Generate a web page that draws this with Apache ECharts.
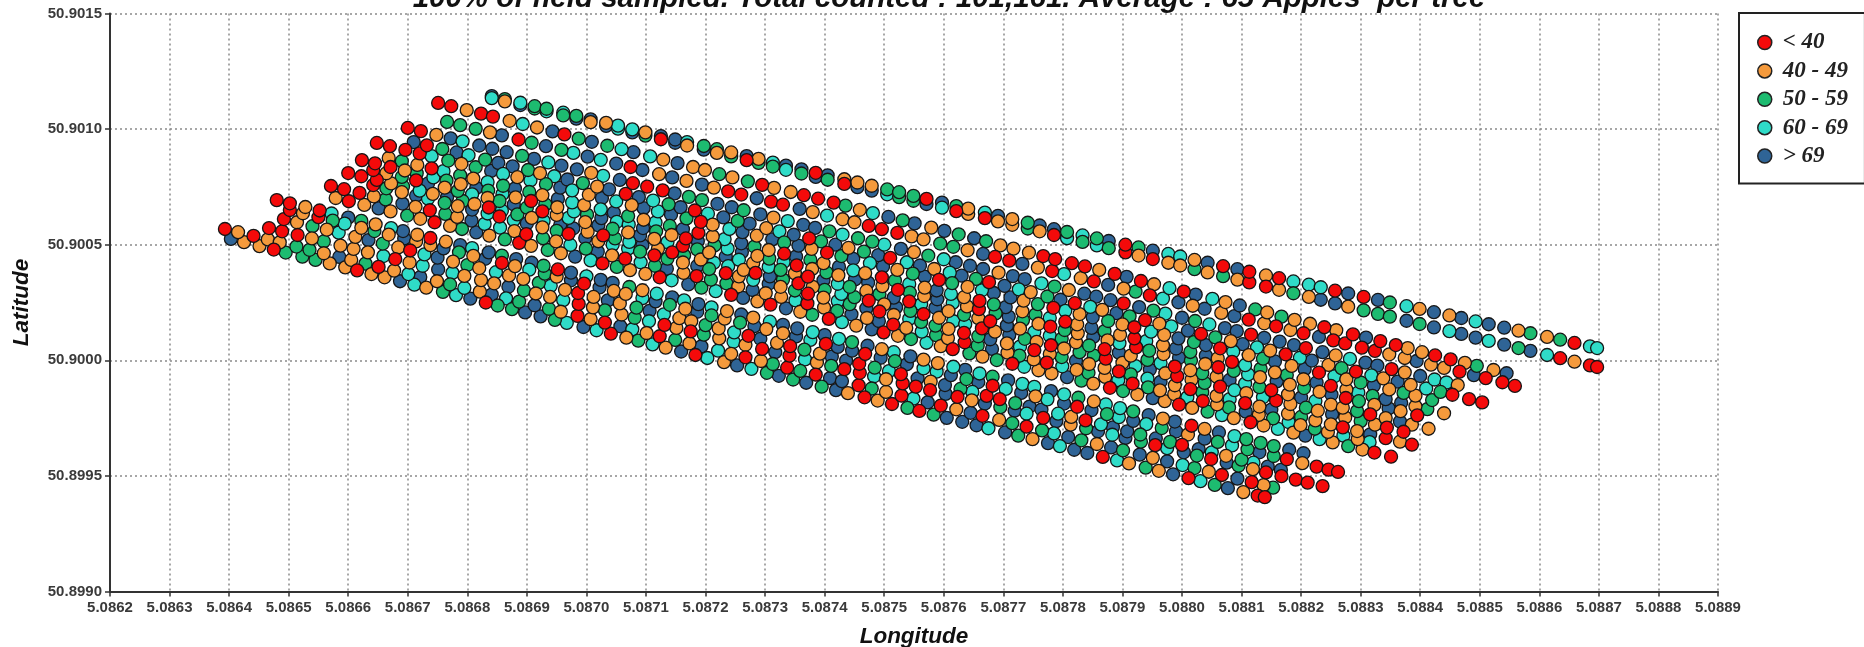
<!DOCTYPE html>
<html><head><meta charset="utf-8">
<style>html,body{margin:0;padding:0;background:#fff}#c{width:1864px;height:647px}</style>
<script src="https://cdn.jsdelivr.net/npm/echarts@6/dist/echarts.min.js"></script>
</head><body><div id="c"></div><script>
// each row: lonOffset(1e-6 from 5.0860), latOffset(1e-6 from 50.8990), class index
const classNames=["< 40","40 - 49","50 - 59","60 - 69","> 69"];
const classColors=["#f40a0a","#f59a3c","#1dbb70","#2fdcc8","#2f6496"];
const xTicks={min:5.0862,max:5.0889,step:0.0001};
const yTicks={min:50.8990,max:50.9015,step:0.0005};
const rowL1=[403,1525,4,425,1511,1,451,1494,1,475,1479,0,495,1466,2,523,1448,2,545,1434,2,569,1419,1,595,1402,1,615,1389,0,
639,1373,1,661,1359,1,687,1342,4,711,1327,3,731,1314,1,759,1296,2,781,1282,3,805,1267,4,831,1250,0,851,1237,2,
875,1221,2,897,1207,4,923,1190,4,947,1175,2,967,1162,3,995,1144,4,1017,1130,3,1041,1115,0,1067,1098,1,1087,1085,2,
1111,1069,3,1133,1055,1,1159,1038,4,1183,1023,0,1203,1010,3,1231,992,1,1253,978,4,1277,963,3,1303,946,2,1323,933,4,
1347,917,2,1369,903,4,1395,886,2,1419,871,4,1439,858,1,1467,840,0,1489,826,1,1513,811,0,1539,794,2,1559,781,0,
1583,765,2,1605,751,4,1631,734,4,1655,719,4,1675,706,3,1703,688,4,1725,674,2,1749,659,1,1775,642,4,1795,629,3,
1819,613,4,1841,599,4,1867,582,0,1891,567,3,1911,554,1,1939,536,2,1961,522,1,1985,507,4,2011,490,0,2031,477,3,
2055,461,2,2077,447,4,2103,430,1,2127,415,0,2139,408,0];
const rowL2=[393,1568,0,415,1554,1,441,1538,0,465,1523,1,485,1510,1,513,1492,2,535,1478,2,559,1463,1,585,1447,4,605,1434,1,
629,1418,2,651,1404,0,677,1388,1,701,1373,3,721,1360,4,749,1342,1,771,1328,2,795,1313,3,821,1297,1,841,1284,4,
865,1268,3,887,1254,2,913,1238,4,937,1223,2,957,1210,1,985,1192,0,1007,1178,1,1031,1163,0,1057,1147,4,1077,1134,3,
1101,1118,1,1123,1104,0,1149,1088,2,1173,1073,1,1193,1060,4,1221,1042,3,1243,1028,1,1267,1013,0,1293,997,1,1313,984,2,
1337,968,0,1359,954,2,1385,938,0,1409,923,4,1429,910,4,1457,892,0,1479,878,2,1503,863,1,1529,847,0,1549,834,3,
1573,818,4,1595,804,0,1621,788,1,1645,773,4,1665,760,0,1693,742,1,1715,728,2,1739,713,0,1765,697,2,1785,684,3,
1809,668,4,1831,654,2,1857,638,1,1881,623,4,1901,610,2,1929,592,4,1951,578,1,1975,563,4,2001,547,3,2021,534,2,
2045,518,1,2067,504,0,2093,488,4,2117,473,0,2137,460,1,2153,449,2];
const rowL3=[467,1572,0,489,1558,0,515,1542,0,539,1527,1,559,1514,2,587,1496,1,609,1482,1,633,1467,1,659,1451,3,679,1438,0,
703,1423,1,725,1409,3,751,1393,4,775,1378,3,795,1365,1,823,1347,1,845,1333,1,869,1318,4,895,1302,2,915,1289,1,
939,1274,1,961,1260,3,987,1244,0,1011,1229,1,1031,1216,2,1059,1198,1,1081,1184,2,1105,1169,3,1131,1153,0,1151,1140,1,
1175,1125,0,1197,1111,2,1223,1095,1,1247,1080,3,1267,1067,1,1295,1049,0,1317,1035,4,1341,1020,0,1367,1004,3,1387,991,1,
1411,976,2,1433,962,0,1459,946,0,1483,931,3,1503,918,1,1531,900,0,1553,886,0,1577,871,0,1603,855,4,1623,842,0,
1647,827,1,1669,813,4,1695,797,2,1719,782,4,1739,769,3,1767,751,0,1789,737,4,1813,722,1,1839,706,2,1859,693,4,
1883,678,3,1905,664,4,1931,648,2,1955,633,0,1975,620,3,2003,602,4,2025,588,2,2049,573,0,2075,557,4,2095,544,2,
2119,529,1,2141,515,0,2167,499,0,2191,484,0,2211,471,0,2236,456,0];
const rowL4=[492,1611,0,514,1597,1,540,1580,2,564,1565,1,584,1552,3,612,1534,1,634,1520,4,658,1505,2,684,1488,1,704,1475,0,
728,1458,3,750,1444,4,776,1427,1,800,1412,2,820,1399,1,848,1381,3,870,1367,1,894,1352,1,920,1335,2,940,1322,3,
964,1305,1,986,1291,0,1012,1274,1,1036,1259,4,1056,1246,1,1084,1228,2,1106,1214,4,1130,1199,3,1156,1182,1,1176,1169,1,
1200,1152,2,1222,1138,1,1248,1121,3,1272,1106,0,1292,1093,4,1320,1075,1,1342,1061,0,1366,1046,2,1392,1029,1,1412,1016,4,
1436,999,4,1458,985,0,1484,968,2,1508,953,3,1528,940,0,1556,922,4,1578,908,1,1602,893,4,1628,876,2,1648,863,3,
1672,846,0,1694,832,0,1720,815,2,1744,800,4,1764,787,4,1792,769,3,1814,755,1,1838,740,0,1864,723,3,1884,710,4,
1908,693,4,1930,679,2,1956,662,4,1980,647,2,2000,634,0,2028,616,4,2050,602,3,2074,587,1,2100,570,2,2120,557,3,
2144,540,4,2166,526,4];
const rowL5=[502,1650,0,524,1636,1,550,1619,0,574,1604,2,594,1591,3,622,1573,1,644,1559,2,668,1544,1,694,1527,4,714,1514,1,
738,1498,1,760,1484,4,786,1467,2,810,1452,1,830,1439,4,858,1421,0,880,1407,1,904,1392,3,930,1375,2,950,1362,1,
974,1346,4,996,1332,0,1022,1315,4,1046,1300,1,1066,1287,1,1094,1269,3,1116,1255,4,1140,1240,2,1166,1223,1,1186,1210,4,
1210,1194,2,1232,1180,1,1258,1163,2,1282,1148,4,1302,1135,1,1330,1117,1,1352,1103,4,1376,1088,3,1402,1071,0,1422,1058,4,
1446,1042,4,1468,1028,0,1494,1011,4,1518,996,2,1538,983,4,1566,965,3,1588,951,3,1612,936,4,1638,919,2,1658,906,4,
1682,890,0,1704,876,3,1730,859,4,1754,844,1,1774,831,3,1802,813,4,1824,799,0,1848,784,4,1874,767,2,1894,754,3,
1918,738,4,1940,724,3,1966,707,2,1990,692,4,2010,679,1,2038,661,4,2060,647,2,2084,632,3,2110,615,2,2130,602,4,
2154,586,2,2176,572,0,2202,555,1,2226,540,0,2246,527,0,2262,517,0];
const rowL6=[480,1693,0,502,1679,0,528,1663,1,552,1648,0,572,1635,3,600,1617,4,622,1603,2,646,1588,1,672,1572,3,692,1559,4,
716,1543,1,738,1529,0,764,1513,1,788,1498,4,808,1485,3,836,1467,4,858,1453,2,882,1438,4,908,1422,4,928,1409,2,
952,1393,0,974,1379,4,1000,1363,3,1024,1348,4,1044,1335,4,1072,1317,2,1094,1303,1,1118,1288,3,1144,1272,4,1164,1259,3,
1188,1243,4,1210,1229,3,1236,1213,1,1260,1198,4,1280,1185,1,1308,1167,3,1330,1153,4,1354,1138,4,1380,1122,3,1400,1109,4,
1424,1093,3,1446,1079,2,1472,1063,4,1496,1048,1,1516,1035,3,1544,1017,4,1566,1003,1,1590,988,1,1616,972,3,1636,959,4,
1660,943,3,1682,929,2,1708,913,4,1732,898,3,1752,885,3,1780,867,4,1802,853,3,1826,838,2,1852,822,1,1872,809,3,
1896,793,3,1918,779,2,1944,763,4,1968,748,1,1988,735,4,2016,717,0,2038,703,1,2062,688,4,2088,672,3,2108,659,2,
2132,643,2,2154,629,2,2180,613,4,2204,598,4];
const rowM1=[579,1702,1,601,1688,0,627,1672,1,651,1657,4,671,1644,1,699,1626,2,721,1612,1,745,1597,0,771,1581,1,791,1568,2,
815,1553,4,837,1539,1,863,1523,2,887,1508,0,907,1495,1,935,1477,2,957,1463,1,981,1448,4,1007,1432,3,1027,1419,0,
1051,1404,2,1073,1390,1,1099,1374,1,1123,1359,0,1143,1346,3,1171,1328,4,1193,1314,2,1217,1299,3,1243,1283,0,1263,1270,4,
1287,1255,1,1309,1241,0,1335,1225,4,1359,1210,1,1379,1197,2,1407,1179,0,1429,1165,3,1453,1150,1,1479,1134,4,1499,1121,0,
1523,1106,1,1545,1092,2,1571,1076,3,1595,1061,1,1615,1048,0,1643,1030,2,1665,1016,1,1689,1001,2,1715,985,0,1735,972,3,
1759,957,1,1781,943,1,1807,927,4,1831,912,2,1851,899,1,1879,881,0,1901,867,2,1925,852,1,1951,836,4,1971,823,1,
1995,808,0,2017,794,1,2043,778,2,2067,763,3,2087,750,1,2115,732,0,2137,718,1,2161,703,3,2187,687,1,2207,674,4,
2231,659,3,2253,645,1,2279,629,2,2303,614,1,2323,601,0,2351,583,0];
const rowM2=[571,1754,0,593,1740,0,619,1724,0,643,1709,1,663,1696,2,691,1678,4,713,1664,1,737,1649,0,763,1633,2,783,1620,1,
807,1604,4,829,1590,3,855,1574,3,879,1559,1,899,1546,0,927,1528,2,949,1514,1,973,1499,3,999,1483,2,1019,1470,4,
1043,1454,1,1065,1440,0,1091,1424,3,1115,1409,2,1135,1396,4,1163,1378,1,1185,1364,0,1209,1349,2,1235,1333,2,1255,1320,1,
1279,1304,4,1301,1290,1,1327,1274,1,1351,1259,3,1371,1246,0,1399,1228,1,1421,1214,2,1445,1199,4,1471,1183,1,1491,1170,4,
1515,1154,0,1537,1140,1,1563,1124,3,1587,1109,2,1607,1096,1,1635,1078,0,1657,1064,2,1681,1049,4,1707,1033,1,1727,1020,2,
1751,1004,1,1773,990,0,1799,974,3,1823,959,1,1843,946,2,1871,928,1,1893,914,3,1917,899,0,1943,883,2,1963,870,1,
1987,854,1,2009,840,3,2035,824,0,2059,809,1,2079,796,2,2107,778,4,2129,764,1,2153,749,2,2179,733,3,2199,720,1,
2223,704,2,2245,690,1,2271,674,3,2295,659,1,2315,646,3];
const rowHc=[642,1758,0,664,1744,2,690,1727,1,714,1712,4,734,1699,3,762,1681,2,784,1667,1,808,1652,4,834,1635,3,854,1622,0,
878,1606,3,900,1592,4,926,1575,1,950,1560,2,970,1547,0,998,1529,4,1020,1515,1,1044,1500,3,1070,1483,3,1090,1470,2,
1114,1454,0,1136,1440,2,1162,1423,1,1186,1408,4,1206,1395,2,1234,1377,0,1256,1363,1,1280,1348,3,1306,1331,4,1326,1318,1,
1350,1302,2,1372,1288,0,1398,1271,1,1422,1256,3,1442,1243,2,1470,1225,4,1492,1211,0,1516,1196,1,1542,1179,3,1562,1166,2,
1586,1150,2,1608,1136,1,1634,1119,0,1658,1104,2,1678,1091,4,1706,1073,1,1728,1059,3,1752,1044,0,1778,1027,1,1798,1014,2,
1822,998,4,1844,984,1,1870,967,1,1894,952,0,1914,939,2,1942,921,3,1964,907,4,1988,892,1,2014,875,0,2034,862,2,
2058,846,1,2080,832,3,2106,815,0,2130,800,1,2150,787,4,2178,769,1,2200,755,2,2224,740,1,2250,723,1,2270,710,0,
2294,694,1,2316,680,4,2342,663,0,2366,648,1,2386,635,0];
const rowM3=[600,1810,0,622,1796,0,648,1780,0,672,1765,1,692,1752,2,720,1734,3,742,1720,1,766,1705,4,792,1689,2,812,1676,1,
836,1661,0,858,1647,3,884,1631,2,908,1616,1,928,1603,3,956,1585,4,978,1571,4,1002,1556,1,1028,1540,0,1048,1527,2,
1072,1512,3,1094,1498,4,1120,1482,1,1144,1467,0,1164,1454,2,1192,1436,1,1214,1422,3,1238,1407,3,1264,1391,1,1284,1378,0,
1308,1363,4,1330,1349,2,1356,1333,0,1380,1318,1,1400,1305,2,1428,1287,3,1450,1273,2,1474,1258,0,1500,1242,1,1520,1229,4,
1544,1214,2,1566,1200,0,1592,1184,1,1616,1169,3,1636,1156,3,1664,1138,0,1686,1124,1,1710,1109,4,1736,1093,2,1756,1080,1,
1780,1065,0,1802,1051,1,1828,1035,2,1852,1020,2,1872,1007,0,1900,989,1,1922,975,3,1946,960,4,1972,944,1,1992,931,0,
2016,916,1,2038,902,2,2064,886,0,2088,871,3,2108,858,1,2136,840,3,2158,826,0,2182,811,1,2208,795,2,2228,782,1,
2252,767,4,2274,753,1,2300,737,2,2324,722,1,2344,709,0,2372,691,0];
const rowHb=[642,1823,0,664,1809,1,690,1793,2,714,1778,0,734,1765,4,762,1747,1,784,1733,2,808,1718,3,834,1702,1,854,1689,2,
878,1674,4,900,1660,2,926,1644,0,950,1629,1,970,1616,3,998,1598,1,1020,1584,4,1044,1569,2,1070,1553,1,1090,1540,4,
1114,1525,1,1136,1511,3,1162,1495,0,1186,1480,2,1206,1467,1,1234,1449,4,1256,1435,3,1280,1420,1,1306,1404,3,1326,1391,2,
1350,1376,1,1372,1362,0,1398,1346,4,1422,1331,3,1442,1318,2,1470,1300,1,1492,1286,2,1516,1271,4,1542,1255,0,1562,1242,3,
1586,1227,4,1608,1213,1,1634,1197,2,1658,1182,1,1678,1169,0,1706,1151,4,1728,1137,1,1752,1122,3,1778,1106,3,1798,1093,2,
1822,1078,1,1844,1064,2,1870,1048,0,1894,1033,4,1914,1020,1,1942,1002,2,1964,988,3,1988,973,0,2014,957,1,2034,944,2,
2058,929,1,2080,915,4,2106,899,3,2130,884,2,2150,871,0,2178,853,1,2200,839,4,2224,824,3,2250,808,1,2270,795,1,
2294,780,2,2316,766,0,2342,750,1,2366,735,4,2386,722,1,2414,704,1];
const rowM4=[623,1866,0,645,1852,0,671,1836,0,695,1821,1,715,1809,2,743,1791,3,765,1777,2,789,1762,1,815,1746,4,835,1734,2,
859,1719,3,881,1705,1,907,1689,0,931,1674,2,951,1662,1,979,1644,3,1001,1630,2,1025,1615,4,1051,1599,3,1071,1587,3,
1095,1572,4,1117,1558,2,1143,1542,1,1167,1527,0,1187,1515,4,1215,1497,2,1237,1483,3,1261,1468,4,1287,1452,1,1307,1440,2,
1331,1425,3,1353,1411,0,1379,1395,1,1403,1380,2,1423,1368,1,1451,1350,4,1473,1336,4,1497,1321,1,1523,1305,0,1543,1293,2,
1567,1278,1,1589,1264,4,1615,1248,3,1639,1233,1,1659,1221,0,1687,1203,2,1709,1189,4,1733,1174,2,1759,1158,1,1779,1146,0,
1803,1131,2,1825,1117,1,1851,1101,4,1875,1086,1,1895,1074,3,1923,1056,0,1945,1042,2,1969,1027,1,1995,1011,4,2015,999,2,
2039,984,1,2061,970,0,2087,954,2,2111,939,3,2131,927,1,2159,909,4,2181,895,1,2205,880,2,2231,864,1,2251,852,4,
2275,837,0,2297,823,2,2323,807,1,2347,792,4,2367,780,1,2395,762,0];
const rowHa=[668,1875,1,690,1861,2,716,1845,1,740,1830,0,760,1818,3,788,1800,2,810,1786,1,834,1771,3,860,1755,2,880,1743,4,
904,1728,2,926,1714,1,952,1698,4,976,1683,3,996,1671,1,1024,1653,3,1046,1639,4,1070,1624,2,1096,1608,1,1116,1596,3,
1140,1581,2,1162,1567,4,1188,1551,0,1212,1536,1,1232,1524,3,1260,1506,4,1282,1492,2,1306,1477,1,1332,1461,0,1352,1449,4,
1376,1434,2,1398,1420,1,1424,1404,4,1448,1389,3,1468,1377,1,1496,1359,0,1518,1345,2,1542,1330,3,1568,1314,1,1588,1302,4,
1612,1287,3,1634,1273,1,1660,1257,0,1684,1242,2,1704,1230,4,1732,1212,1,1754,1198,2,1778,1183,3,1804,1167,0,1824,1155,1,
1848,1140,4,1870,1126,2,1896,1110,1,1920,1095,0,1940,1083,3,1968,1065,1,1990,1051,4,2014,1036,2,2040,1020,4,2060,1008,1,
2084,993,0,2106,979,3,2132,963,2,2156,948,1,2176,936,2,2204,918,1,2226,904,4,2250,889,0,2276,873,1,2296,861,3,
2320,846,2,2342,832,4,2368,816,4,2392,801,1,2412,789,2,2440,771,1];
const rowM5=[648,1940,0,670,1926,0,696,1910,0,720,1895,0,740,1883,3,768,1864,2,790,1850,1,814,1835,2,840,1819,4,860,1806,3,
884,1792,1,906,1778,3,932,1762,2,956,1747,4,976,1735,3,1004,1716,1,1026,1702,4,1050,1687,3,1076,1671,1,1096,1658,4,
1120,1644,3,1142,1630,4,1168,1614,2,1192,1599,0,1212,1587,1,1240,1568,3,1262,1554,4,1286,1539,1,1312,1523,4,1332,1510,2,
1356,1496,4,1378,1482,1,1404,1466,0,1428,1451,2,1448,1439,4,1476,1420,3,1498,1406,4,1522,1391,1,1548,1375,2,1568,1362,4,
1592,1348,0,1614,1334,2,1640,1318,1,1664,1303,3,1684,1291,4,1712,1272,4,1734,1258,1,1758,1243,2,1784,1227,0,1804,1214,3,
1828,1200,1,1850,1186,4,1876,1170,2,1900,1155,1,1920,1143,0,1948,1124,3,1970,1110,1,1994,1095,4,2020,1079,2,2040,1066,4,
2064,1052,0,2086,1038,3,2112,1022,1,2136,1007,2,2156,995,4,2184,976,1,2206,962,4,2230,947,0,2256,931,3,2276,918,1,
2300,904,2,2322,890,4,2348,874,1,2372,859,2,2392,847,1,2420,828,2];
const rowM6=[710,1944,4,732,1930,0,758,1914,2,782,1899,4,802,1887,3,830,1868,2,852,1854,4,876,1839,4,902,1823,2,922,1810,1,
946,1796,3,968,1782,4,994,1766,2,1018,1751,1,1038,1739,4,1066,1720,0,1088,1706,4,1112,1691,3,1138,1675,2,1158,1662,4,
1182,1648,0,1204,1634,3,1230,1618,4,1254,1603,2,1274,1591,4,1302,1572,1,1324,1558,3,1348,1543,4,1374,1527,0,1394,1514,2,
1418,1500,4,1440,1486,1,1466,1470,2,1490,1455,4,1510,1443,0,1538,1424,3,1560,1410,4,1584,1395,1,1610,1379,3,1630,1366,4,
1654,1352,2,1676,1338,0,1702,1322,4,1726,1307,3,1746,1295,1,1774,1276,2,1796,1262,4,1820,1247,0,1846,1231,3,1866,1218,1,
1890,1204,4,1912,1190,2,1938,1174,0,1962,1159,1,1982,1147,3,2010,1128,4,2032,1114,0,2056,1099,2,2082,1083,1,2102,1070,4,
2126,1056,3,2148,1042,1,2174,1026,0,2198,1011,3,2218,999,4,2246,980,1,2268,966,2,2292,951,0,2318,935,3,2338,922,1,
2362,908,4,2384,894,1,2410,878,3,2434,863,2,2454,851,0,2482,832,0,2504,818,0];
const rowM7=[700,2005,0,722,1991,0,748,1975,1,772,1960,4,792,1947,3,820,1929,4,842,1915,4,866,1900,4,892,1884,2,912,1871,4,
936,1856,3,958,1842,4,984,1826,4,1008,1811,1,1028,1798,3,1056,1780,4,1078,1766,0,1102,1751,0,1128,1735,0,1148,1722,4,
1172,1707,2,1194,1693,2,1220,1677,4,1244,1662,4,1264,1649,2,1292,1631,4,1314,1617,1,1338,1602,3,1364,1586,4,1384,1573,4,
1408,1558,2,1430,1544,3,1456,1528,2,1480,1513,2,1500,1500,3,1528,1482,4,1550,1468,1,1574,1453,2,1600,1437,3,1620,1424,4,
1644,1409,4,1666,1395,4,1692,1379,1,1716,1364,4,1736,1351,4,1764,1333,3,1786,1319,2,1810,1304,1,1836,1288,4,1856,1275,4,
1880,1260,4,1902,1246,0,1928,1230,4,1952,1215,2,1972,1202,3,2000,1184,4,2022,1170,2,2046,1155,3,2072,1139,4,2092,1126,4,
2116,1111,0,2138,1097,4,2164,1081,4,2188,1066,4,2208,1053,0,2236,1035,4,2258,1021,1,2282,1006,3,2308,990,4,2328,977,4,
2352,962,0,2374,948,1,2400,932,4,2424,917,3,2444,904,3,2463,893,1];
const rowM8=[766,2031,2,788,2017,2,814,2001,2,838,1986,1,858,1973,4,886,1955,0,908,1941,2,932,1926,4,958,1910,2,978,1897,3,
1002,1881,4,1024,1867,3,1050,1851,4,1074,1836,0,1094,1823,4,1122,1805,1,1144,1791,4,1168,1776,1,1194,1760,4,1214,1747,1,
1238,1731,0,1260,1717,0,1286,1701,4,1310,1686,0,1330,1673,0,1358,1655,4,1380,1641,1,1404,1626,3,1430,1610,1,1450,1597,1,
1474,1581,0,1496,1567,0,1522,1551,0,1546,1536,1,1566,1523,1,1594,1505,2,1616,1491,2,1640,1476,1,1666,1460,4,1686,1447,0,
1710,1431,0,1732,1417,4,1758,1401,1,1782,1386,0,1802,1373,3,1830,1355,1,1852,1341,0,1876,1326,4,1902,1310,1,1922,1297,2,
1946,1281,0,1968,1267,3,1994,1251,4,2018,1236,1,2038,1223,4,2066,1205,1,2088,1191,4,2112,1176,0,2138,1160,1,2158,1147,0,
2182,1131,1,2204,1117,0,2230,1101,4,2254,1086,0,2274,1073,0,2302,1055,0,2324,1041,0,2348,1026,1,2374,1010,1,2394,997,4,
2418,981,1,2440,967,1,2466,951,0,2490,936,4,2510,923,0,2538,905,0,2559,889,0];
const rowT1=[751,2113,0,773,2099,0,799,2082,1,823,2067,0,843,2054,0,871,2036,1,893,2022,3,917,2007,1,943,1990,4,963,1977,0,
987,1959,2,1009,1945,4,1035,1928,2,1059,1913,3,1079,1900,4,1107,1882,3,1129,1868,1,1153,1853,4,1179,1836,1,1199,1823,1,
1223,1805,2,1245,1791,1,1271,1774,2,1295,1759,0,1315,1746,1,1343,1728,1,1365,1714,0,1389,1699,0,1415,1682,0,1435,1669,2,
1459,1651,1,1481,1637,3,1507,1620,4,1531,1605,2,1551,1592,4,1579,1574,1,1601,1560,4,1625,1545,2,1651,1528,4,1671,1515,2,
1695,1497,1,1717,1483,1,1743,1466,1,1767,1451,0,1787,1438,0,1815,1420,0,1837,1406,0,1861,1391,1,1887,1374,0,1907,1361,4,
1931,1343,0,1953,1329,1,1979,1312,3,2003,1297,0,2023,1284,4,2051,1266,3,2073,1252,1,2097,1237,4,2123,1220,2,2143,1207,1,
2167,1189,2,2189,1175,1,2215,1158,1,2239,1143,0,2259,1130,1,2287,1112,0,2309,1098,4,2333,1083,0,2359,1066,0,2379,1053,1,
2403,1035,1,2425,1021,0,2451,1004,0,2475,989,1,2495,976,2,2523,958,1,2545,944,4];
const rowT2a=[841,2134,3,863,2120,1,889,2104,4,913,2089,2,933,2077,3,961,2059,2,983,2045,4,1007,2030,1,1033,2014,4,1053,2002,3,
1077,1986,4,1099,1972,2,1125,1956,0,1149,1941,4,1169,1929,1,1197,1911,4,1219,1897,1,1243,1882,2,1269,1866,0,1289,1854,2,
1313,1838,2,1335,1824,3,1361,1808,2,1385,1793,4,1405,1781,2,1433,1763,0,1455,1749,4,1479,1734,4,1505,1718,3,1525,1706,2,
1549,1690,2,1571,1676,4,1597,1660,3,1621,1645,0,1641,1633,1,1669,1615,0,1691,1601,1,1715,1586,1,1741,1570,2,1761,1558,1,
1785,1542,0,1807,1528,3,1833,1512,2,1857,1497,3,1877,1485,2,1905,1467,0,1927,1453,1,1951,1438,0,1977,1422,1,1997,1410,1,
2021,1394,2,2043,1380,1,2069,1364,2,2093,1349,1,2113,1337,0,2141,1319,0,2163,1305,1,2187,1290,2,2213,1274,1,2233,1262,4,
2257,1246,4,2279,1232,1,2305,1216,2,2329,1201,2,2349,1189,2,2377,1171,4,2399,1157,2,2423,1142,4,2449,1126,3,2469,1114,4,
2493,1098,4,2515,1084,3,2541,1068,4,2565,1053,2,2585,1041,4,2613,1023,3,2635,1009,0,2659,994,1,2685,978,0,2697,971,0];
const rowT2b=[841,2143,4,863,2130,2,889,2114,3,913,2099,2,933,2088,2,961,2071,3,983,2057,2,1007,2042,4,1033,2027,1,1053,2015,3,
1077,1999,3,1099,1986,1,1125,1970,4,1149,1955,4,1169,1944,3,1197,1927,2,1219,1913,2,1243,1899,1,1269,1883,4,1289,1871,1,
1313,1855,3,1335,1842,4,1361,1826,4,1385,1811,0,1405,1800,4,1433,1783,1,1455,1769,1,1479,1755,1,1505,1739,2,1525,1727,2,
1549,1711,2,1571,1698,0,1597,1682,4,1621,1667,2,1641,1656,1,1669,1639,3,1691,1625,4,1715,1611,1,1741,1595,2,1761,1583,4,
1785,1567,4,1807,1555,2,1833,1540,3,1857,1527,2,1877,1516,4,1905,1500,0,1927,1488,2,1951,1474,4,1977,1460,3,1997,1449,3,
2021,1434,1,2043,1422,4,2069,1407,0,2093,1394,4,2113,1383,0,2141,1367,1,2163,1355,0,2187,1341,3,2213,1327,3,2233,1316,3,
2257,1301,0,2279,1289,4,2305,1274,0,2329,1261,4,2349,1250,2,2377,1234,3,2399,1222,1,2423,1208,4,2449,1194,1,2469,1183,4,
2493,1168,3,2515,1156,4,2541,1141,4,2565,1128,1,2585,1117,2,2613,1101,1,2635,1089,2,2659,1075,0,2685,1060,3,2697,1053,3];
const rows=[rowL1,rowL2,rowL3,rowL4,rowL5,rowL6,rowM1,rowM2,rowHc,rowM3,rowHb,rowM4,rowHa,rowM5,rowM6,rowM7,rowM8,rowT1,rowT2a,rowT2b];

const byClass=classNames.map(()=>[]);
rows.forEach(r=>{for(let i=0;i+2<r.length;i+=3)byClass[r[i+2]].push([5.086+r[i]*1e-6,50.899+r[i+1]*1e-6]);});

const chart=echarts.init(document.getElementById('c'),null,{renderer:'canvas'});
const axisText={color:'#3a3a3a',fontFamily:'Liberation Sans',fontWeight:'bold',fontSize:15};
const nameText={color:'#111',fontFamily:'Liberation Sans',fontWeight:'bold',fontStyle:'italic',fontSize:22.5};
const dotted={show:true,lineStyle:{color:'#8a8a8a',type:[2,3],width:1.5}};
chart.setOption({
 animation:false,backgroundColor:'#fff',
 title:{text:'100% of field sampled. Total counted : 101,161. Average : 65 Apples  per tree',left:944,top:-21,textAlign:'center',
  textStyle:{color:'#111',fontFamily:'Liberation Sans',fontWeight:'bold',fontStyle:'italic',fontSize:29.5}},
 grid:{left:110,right:146,top:13.5,bottom:55.5,outerBoundsMode:'none'},
 legend:{orient:'vertical',left:1739,top:13,padding:[18,17,16,18],itemWidth:14,itemHeight:14,itemGap:5.4,itemStyle:{borderColor:'#222',borderWidth:1.5},
  borderColor:'#222',borderWidth:2,backgroundColor:'#fff',data:classNames,
  textStyle:{color:'#222',fontFamily:'Liberation Serif',fontWeight:'bold',fontStyle:'italic',fontSize:23,lineHeight:20,padding:[0,0,0,6]}},
 xAxis:{type:'value',min:xTicks.min,max:xTicks.max,interval:xTicks.step,name:'Longitude',nameLocation:'middle',nameGap:34,nameTextStyle:nameText,
  axisLine:{onZero:false,lineStyle:{color:'#333',width:2}},axisTick:{length:5,lineStyle:{color:'#333',width:1.5}},
  axisLabel:Object.assign({margin:9,formatter:v=>v.toFixed(4),hideOverlap:false},axisText),splitLine:dotted},
 yAxis:{type:'value',min:yTicks.min,max:yTicks.max,interval:yTicks.step,name:'Latitude',nameLocation:'middle',nameGap:77,nameTextStyle:nameText,
  axisLine:{onZero:false,lineStyle:{color:'#333',width:2}},axisTick:{length:5,lineStyle:{color:'#333',width:1.5}},
  axisLabel:Object.assign({margin:8,formatter:v=>v.toFixed(4)},axisText),splitLine:dotted},
 series:[4,3,2,1,0].map(k=>({name:classNames[k],type:'scatter',data:byClass[k],symbol:'circle',symbolSize:13,large:false,silent:true,
  itemStyle:{color:classColors[k],borderColor:'#161616',borderWidth:1.3,opacity:1}}))
});
</script></body></html>
